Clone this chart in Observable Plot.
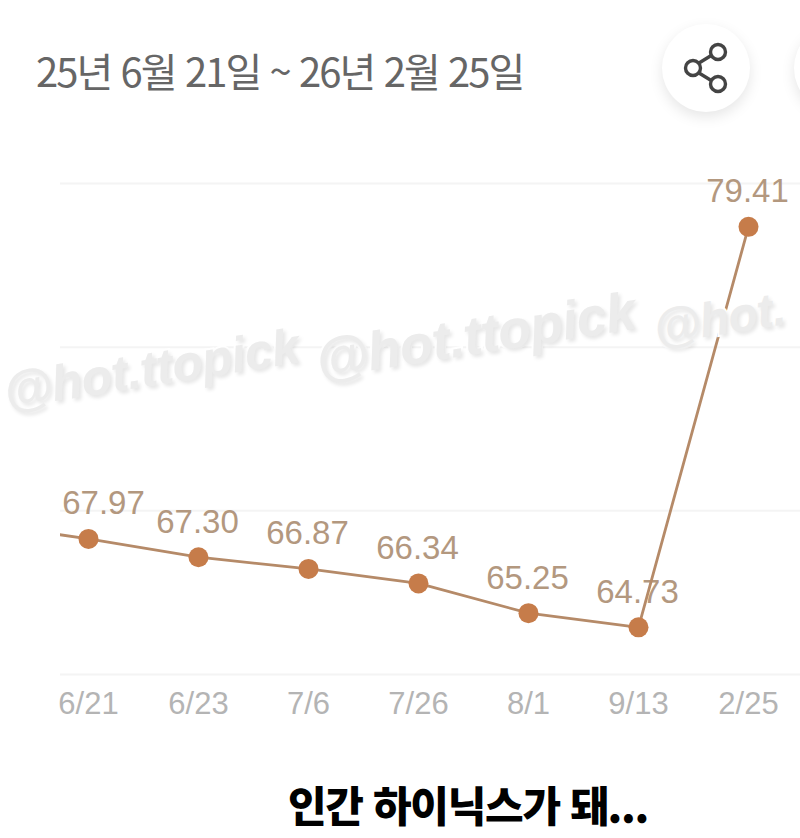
<!DOCTYPE html>
<html lang="ko">
<head>
<meta charset="utf-8">
<script src="https://cdn.jsdelivr.net/npm/d3@7"></script>
<script src="https://cdn.jsdelivr.net/npm/@observablehq/plot@0.6"></script>
<style>
html,body{margin:0;padding:0;background:#fff;overflow:hidden}
#page{position:relative;width:800px;height:838px;overflow:hidden}
#head{position:relative;height:130px}
#title{position:absolute;left:36px;top:41px;font:400 40px/58px "Noto Sans CJK KR";letter-spacing:-1.95px;color:#666;white-space:nowrap}
.btn{position:absolute;width:88px;height:88px;border-radius:50%;background:#fff;box-shadow:0 5px 14px rgba(0,0,0,.10)}
#share{left:662px;top:24px}
#next{left:794px;top:24px}
#share svg{position:absolute;left:0;top:0}
#chart{height:630px}
#chart svg{display:block}
#caption{position:absolute;left:0;top:774px;width:936px;text-align:center;font:900 42px/60px "Noto Sans CJK KR";letter-spacing:-1.3px;color:#000;white-space:nowrap}
.wm{position:absolute;font:italic 700 54px/60px "Liberation Sans";color:#ececec;-webkit-text-stroke:4px #fff;paint-order:stroke fill;text-shadow:2px 3px 4px rgba(0,0,0,.10);transform:rotate(-9deg);transform-origin:left center;white-space:nowrap;letter-spacing:-.5px}
</style>
</head>
<body>
<div id="page">
  <div id="head">
    <div id="title">25년 6월 21일 ~ 26년 2월 25일</div>
    <div class="btn" id="share">
      <svg width="88" height="88" viewBox="0 0 88 88" fill="none" stroke="#444" stroke-width="3.4">
        <path d="M37 39 L50 31 M37 49 L50 57"/>
        <circle cx="31" cy="44" r="7.5"/><circle cx="56" cy="28" r="7.5"/><circle cx="56" cy="60" r="7.5"/>
      </svg>
    </div>
    <div class="btn" id="next"></div>
  </div>
  <div id="chart"></div>
  <div class="wm" style="left:4px;top:362px;font-size:50px">@hot.ttopick</div>
  <div class="wm" style="left:316px;top:330px">@hot.ttopick</div>
  <div class="wm" style="left:654px;top:299px;font-size:48px">@hot.</div>
  <div id="caption">인간 하이닉스가 돼...</div>
</div>
<script>
const dates = ["6/21", "6/23", "7/6", "7/26", "8/1", "9/13", "2/25"];
const values = [67.97, 67.30, 66.87, 66.34, 65.25, 64.73, 79.41];
const gridValues = [63, 69, 75, 81];
const priorDate = "";
const priorValue = 68.56;

const rows = dates.map((date, i) => ({date, value: values[i]}));
const lineRows = [{date: priorDate, value: priorValue}, ...rows];

const labelColor = "#b3987f";
const lineColor = "#b58a68";
const dotColor = "#c67c4a";

const chart = Plot.plot({
  width: 800,
  height: 630,
  marginLeft: 60,
  marginRight: 0,
  marginTop: 53,
  marginBottom: 86,
  style: {background: "transparent", fontFamily: "Liberation Sans"},
  x: {type: "point", domain: [priorDate, ...dates], range: [-22, 748], padding: 0, label: null},
  y: {domain: [63, 81], range: [544, 53], axis: null},
  marks: [
    Plot.ruleY(gridValues, {stroke: "#f4f4f4", strokeWidth: 2}),
    Plot.axisX({ticks: dates, tickSize: 0, tickPadding: 17, fontSize: 31, fill: "#b4b4b4", label: null}),
    Plot.text(rows.slice(0, 1), {x: "date", y: "value", text: d => d.value.toFixed(2), dx: 15, dy: -35, fontSize: 33, fill: labelColor}),
    Plot.text(rows.slice(1), {x: "date", y: "value", text: d => d.value.toFixed(2), dx: -1, dy: -35, fontSize: 33, fill: labelColor}),
    Plot.line(lineRows, {x: "date", y: "value", stroke: lineColor, strokeWidth: 2.8, clip: true}),
    Plot.dot(rows, {x: "date", y: "value", r: 10, fill: dotColor})
  ]
});
document.getElementById("chart").append(chart);
</script>
</body>
</html>
